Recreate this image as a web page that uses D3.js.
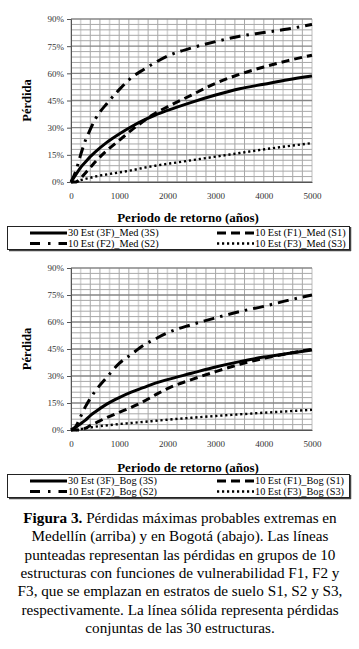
<!DOCTYPE html>
<html>
<head>
<meta charset="utf-8">
<script src="https://d3js.org/d3.v7.min.js"></script>
<style>
  body { margin: 0; background: #fff; }
  svg text { font-family: "Liberation Serif", Tinos, "Times New Roman", serif; }
</style>
</head>
<body>
<svg id="fig" width="359" height="649"></svg>
<script>
// return period (years) used as x for every series
const returnPeriods = [0, 100, 200, 300, 400, 500, 750, 1000, 1250, 1500, 1750, 2000, 2500, 3000, 3500, 4000, 4500, 5000];

// Medellín (top) - losses in %
const med3F = [0, 4, 8, 11, 14, 16.5, 22, 26.5, 30.5, 34, 37, 39.5, 44, 48, 51.5, 54, 56.5, 58.5];
const medF1 = [0, 0, 2, 5, 8, 11, 17.5, 23, 28.5, 33.5, 38, 41.5, 48, 54.5, 59.5, 63.5, 67, 70];
const medF2 = [0, 6, 15, 23, 29, 34.5, 43.5, 51, 57.5, 62, 66, 69.5, 74, 77.5, 80.5, 82.5, 84.5, 87];
const medF3 = [0, 0, 1, 1.7, 2.3, 3, 4.2, 5.3, 6.4, 7.8, 9, 10, 12, 14, 16, 18, 19.8, 21.5];

// Bogotá (bottom)
const bog3F = [0, 1.5, 3.5, 5.5, 8, 10, 14.5, 18, 21, 23.5, 26, 28, 31.5, 35, 38, 40.5, 42.5, 44.5];
const bogF1 = [0, 0, 0, 1, 2.5, 3.8, 7, 9.8, 12.6, 15.8, 19.5, 23, 28, 32.4, 36.5, 39.8, 42.5, 44.8];
const bogF2 = [0, 2, 7.5, 13, 17.5, 21.5, 29.5, 37, 42, 47, 50.6, 54, 58.5, 62.3, 65.8, 68.7, 72, 75];
const bogF3 = [0, 0, 0.5, 1, 1.4, 1.8, 2.6, 3.3, 3.9, 4.5, 5.1, 5.7, 6.8, 7.8, 8.7, 9.6, 10.4, 11.2];

const xTicks = [0, 1000, 2000, 3000, 4000, 5000];
const yTicks = [0, 15, 30, 45, 60, 75, 90];

const legendMed = ['30 Est (3F)_Med (3S)', '10 Est (F1)_Med (S1)', '10 Est (F2)_Med (S2)', '10 Est (F3)_Med (S3)'];
const legendBog = ['30 Est (3F)_Bog (3S)', '10 Est (F1)_Bog (S1)', '10 Est (F2)_Bog (S2)', '10 Est (F3)_Bog (S3)'];

const captionLines = [
  ['Figura 3.', ' Pérdidas máximas probables extremas en'],
  ['', 'Medellín (arriba) y en Bogotá (abajo). Las líneas'],
  ['', 'punteadas representan las pérdidas en grupos de 10'],
  ['', 'estructuras con funciones de vulnerabilidad F1, F2 y'],
  ['', 'F3, que se emplazan en estratos de suelo S1, S2 y S3,'],
  ['', 'respectivamente. La línea sólida representa pérdidas'],
  ['', 'conjuntas de las 30 estructuras.']
];

// line styles: solid, dashed, dash-dot, dotted
const styles = [
  {w: 3, dash: null},
  {w: 3, dash: '8,5'},
  {w: 3, dash: '11,6,2.5,6'},
  {w: 2.4, dash: '2.2,2.8'}
];

const svg = d3.select('#fig');
svg.append('rect').attr('width', 359).attr('height', 649).attr('fill', '#fff');

const x = d3.scaleLinear().domain([0, 5000]).range([71, 312]);

function drawPanel(top, bottom, series, labels, titleY, legendTop) {
  const y = d3.scaleLinear().domain([0, 90]).range([bottom, top]);
  const g = svg.append('g');

  // grid
  const gx = d3.range(0, 5001, 200);
  const gy = d3.range(0, 90.01, 3);
  g.selectAll('line.vg').data(gx).join('line')
    .attr('x1', d => x(d)).attr('x2', d => x(d))
    .attr('y1', y(0)).attr('y2', y(90))
    .attr('stroke', (d, i) => i % 3 == 1 ? '#d6d6d6' : '#a8a8a8')
    .attr('stroke-width', (d, i) => i % 3 == 1 ? 1.6 : 1);
  g.selectAll('line.hg').data(gy).join('line')
    .attr('x1', x(0)).attr('x2', x(5000))
    .attr('y1', d => y(d)).attr('y2', d => y(d))
    .attr('stroke', d => Math.round(d) % 15 == 0 ? '#868686' : '#a8a8a8')
    .attr('stroke-width', d => Math.round(d) % 15 == 0 ? 1.3 : 1);

  // axes
  const yAxis = d3.axisLeft(y).tickValues(yTicks).tickFormat(d => d + '%').tickSize(4);
  const xAxis = d3.axisBottom(x).tickValues(xTicks).tickFormat(d3.format('d')).tickSize(0);
  const ya = g.append('g').attr('transform', `translate(${x(0)},0)`).call(yAxis);
  const xa = g.append('g').attr('transform', `translate(0,${y(0)})`).call(xAxis);
  [ya, xa].forEach(a => {
    a.attr('font-family', null);
    a.select('.domain').attr('stroke', '#555');
    a.selectAll('line').attr('stroke', '#555');
    a.selectAll('text').attr('font-size', 9).attr('fill', '#333');
  });
  xa.selectAll('text').attr('dy', '1.5em');
  ya.selectAll('text').attr('x', -7);

  g.append('text')
    .attr('transform', `translate(31,${(top + bottom) / 2}) rotate(-90)`)
    .attr('text-anchor', 'middle').attr('font-size', 12.5).attr('font-weight', 'bold')
    .text('Pérdida');
  g.append('text')
    .attr('x', 188).attr('y', titleY)
    .attr('text-anchor', 'middle').attr('font-size', 13).attr('font-weight', 'bold')
    .text('Periodo de retorno (años)');

  // series
  const line = d3.line()
    .x((d, i) => x(returnPeriods[i]))
    .y(d => y(d))
    .curve(d3.curveMonotoneX);
  series.forEach((s, k) => {
    g.append('path').datum(s)
      .attr('d', line)
      .attr('fill', 'none')
      .attr('stroke', '#000')
      .attr('stroke-width', styles[k].w)
      .attr('stroke-dasharray', styles[k].dash);
  });

  // legend
  const lg = g.append('g').attr('transform', `translate(0,${legendTop})`);
  lg.append('line').attr('x1', 9).attr('x2', 351).attr('y1', 24.5).attr('y2', 24.5).attr('stroke', '#444').attr('stroke-width', 1.5);
  lg.append('line').attr('x1', 350.5).attr('x2', 350.5).attr('y1', 1).attr('y2', 25).attr('stroke', '#444').attr('stroke-width', 1.5);
  lg.append('rect').attr('x', 7.5).attr('y', 0.5).attr('width', 342).attr('height', 23)
    .attr('fill', 'none').attr('stroke', '#222').attr('stroke-width', 1);
  labels.forEach((t, k) => {
    const order = [[0, 0], [1, 0], [0, 1], [1, 1]][k];
    const x0 = order[0] == 0 ? 30 : 217;
    const yy = 7 + order[1] * 10.5;
    lg.append('line').attr('x1', x0).attr('x2', x0 + 37).attr('y1', yy).attr('y2', yy)
      .attr('stroke', '#000').attr('stroke-width', styles[k].w)
      .attr('stroke-dasharray', k == 2 ? '10,8,2.5,8' : (k == 1 ? '9,5' : styles[k].dash));
    lg.append('text').attr('x', x0 + 38).attr('y', yy + 3.4)
      .attr('font-size', 10.3).text(t);
  });
}

drawPanel(19, 182, [med3F, medF1, medF2, medF3], legendMed, 222, 226);
drawPanel(268, 430, [bog3F, bogF1, bogF2, bogF3], legendBog, 472, 474);

// caption
const cap = svg.append('text').attr('text-anchor', 'middle').attr('font-size', 15.2);
captionLines.forEach((l, i) => {
  const t = cap.append('tspan').attr('x', 180).attr('y', 523 + i * 18.3);
  if (l[0]) t.append('tspan').attr('font-weight', 'bold').text(l[0]);
  t.append('tspan').text(l[1]);
});
</script>
</body>
</html>
